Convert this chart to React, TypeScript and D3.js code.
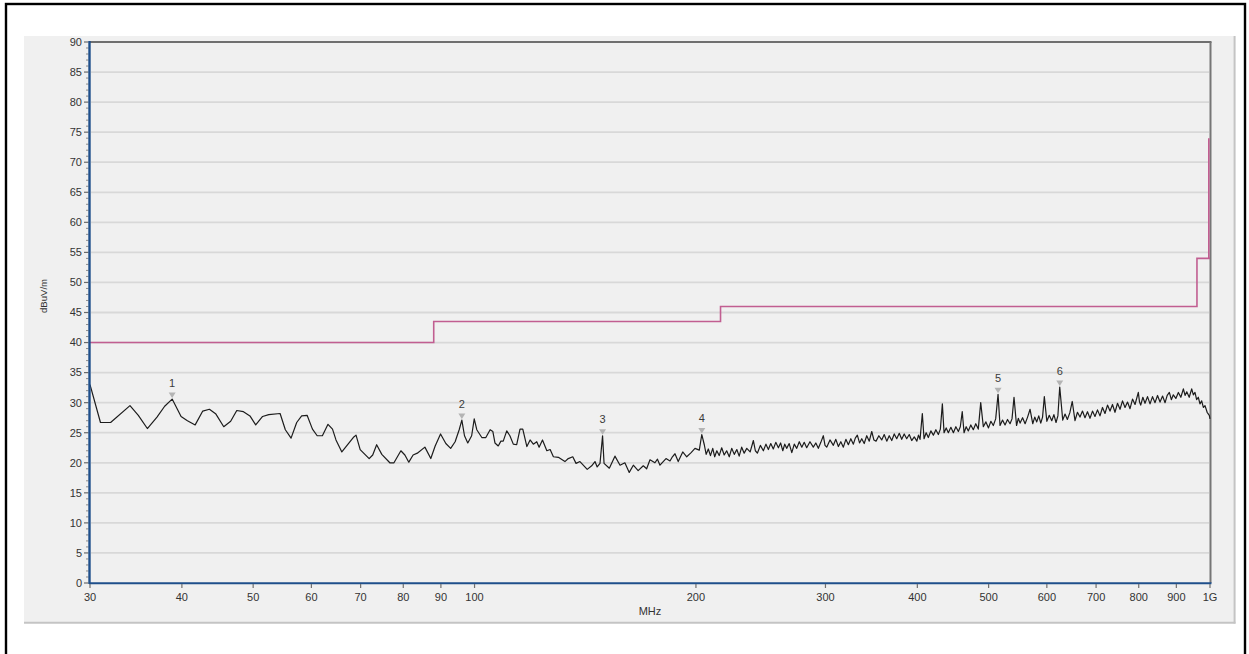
import React from 'react';
import * as d3 from 'd3';

// ---------- data ----------
const xTickValues = [30, 40, 50, 60, 70, 80, 90, 100, 200, 300, 400, 500, 600, 700, 800, 900, 1000];
const xTickLabels = ['30', '40', '50', '60', '70', '80', '90', '100', '200', '300', '400', '500', '600', '700', '800', '900', '1G'];
const yTickValues = [0, 5, 10, 15, 20, 25, 30, 35, 40, 45, 50, 55, 60, 65, 70, 75, 80, 85, 90];
const yTickLabels = ['0', '5', '10', '15', '20', '25', '30', '35', '40', '45', '50', '55', '60', '65', '70', '75', '80', '85', '90'];

// limit line (dBuV/m): frequency edges and level per band, plus final peak value at 1 GHz
const limitEdges = [30, 88, 216, 960, 1000];
const limitLevels = [40, 43.5, 46, 54];
const limitPeak = 74;

// measured trace [MHz, dBuV/m] — low band (coarse sweep)
const traceLow: [number, number][] = [
  [30, 33.0], [31.0, 26.7], [32.0, 26.7], [34.0, 29.5], [34.9, 27.9], [35.9, 25.7], [37.0, 27.6], [37.9, 29.4],
  [38.8, 30.6], [39.9, 27.7], [40.7, 27.0], [41.7, 26.3], [42.7, 28.6], [43.6, 28.9], [44.5, 28.1], [45.6, 26.0],
  [46.6, 26.9], [47.5, 28.7], [48.5, 28.5], [49.5, 27.8], [50.4, 26.3], [51.5, 27.7], [52.5, 28.0], [54.4, 28.2],
  [55.3, 25.5], [56.3, 24.1], [57.3, 26.7], [58.2, 27.8], [59.2, 27.9], [60.2, 25.6], [61.1, 24.5], [62.1, 24.5],
  [63.2, 26.4], [64.1, 25.6], [64.8, 23.8], [66.0, 21.8], [68.4, 24.2], [69.0, 24.6], [69.9, 22.2], [71.9, 20.7],
  [72.7, 21.3], [73.6, 23.0], [74.8, 21.4], [76.7, 20.0], [77.7, 20.0], [79.4, 22.0], [80.4, 21.3], [81.4, 20.1],
  [82.5, 21.3], [83.6, 21.6], [85.6, 22.6], [87.2, 20.7], [88.4, 22.8], [89.9, 24.8], [91.4, 23.2], [92.8, 22.4],
  [94.1, 23.5], [95.3, 25.5], [96.1, 27.1], [96.9, 24.5], [97.9, 23.3], [99.1, 24.5], [99.9, 27.3], [100.7, 25.5],
  [102.3, 24.2], [103.6, 24.2], [105.0, 25.5], [105.9, 25.2], [106.6, 23.3], [107.7, 22.8], [108.6, 23.6], [109.4, 23.6],
  [110.6, 25.3], [111.7, 24.5], [112.9, 23.1], [114.1, 23.0], [115.3, 25.6], [116.3, 25.6], [117.8, 22.7], [119.0, 23.8],
  [120.2, 23.1], [121.5, 23.5], [122.4, 22.6], [123.7, 23.8], [125.4, 22.0], [126.7, 22.2], [128.0, 21.0], [130.0, 20.9],
];

// mid band
const traceMid: [number, number][] = [
  [132.7, 20.2], [134.1, 20.7], [136.0, 21.0], [137.4, 19.9], [139.1, 20.2], [142.3, 18.9], [144.3, 19.5], [145.8, 20.2],
  [146.8, 19.3], [148.1, 19.9], [149.3, 24.5], [150.0, 19.9], [152.5, 19.1], [155.2, 21.1], [157.7, 19.6], [160.1, 20.0],
  [162.3, 18.4], [164.4, 19.6], [166.9, 18.7], [169.6, 19.5], [171.4, 19.0], [173.2, 20.5], [175.9, 20.0], [177.3, 20.6],
  [178.7, 19.6], [182.1, 20.7], [184.4, 20.3], [185.8, 21.0], [187.3, 21.5], [189.2, 20.2], [191.9, 21.8], [194.3, 21.0],
  [197.0, 21.7], [199.4, 22.4], [202.1, 22.1], [203.7, 24.7],
  [205.3, 23.0], [206.5, 21.4], [207.9, 22.3], [209.3, 21.2], [210.8, 22.4], [212.1, 21.0], [213.5, 22.0], [215.1, 21.2],
  [216.8, 22.5], [218.5, 21.3], [220.2, 22.0], [222.0, 21.0], [223.7, 22.4], [225.5, 21.4], [227.3, 22.2], [229.0, 21.1],
  [230.8, 22.6], [232.6, 21.6], [234.5, 22.4], [237.0, 21.8], [239.4, 23.7], [240.9, 22.0], [242.4, 21.6], [244.7, 22.9],
  [247.0, 22.0], [249.0, 23.1], [250.9, 22.2], [252.8, 23.2], [254.8, 22.3], [256.8, 23.4], [258.9, 22.5], [260.7, 23.3],
  [262.5, 22.0], [264.1, 23.1], [265.7, 22.4], [267.8, 23.2], [270.0, 21.7], [272.1, 23.1], [274.2, 22.4], [276.4, 23.5],
  [278.6, 22.6], [280.7, 23.4], [282.9, 22.5], [285.8, 23.5], [288.8, 22.6], [291.1, 23.3], [293.4, 22.4], [295.7, 23.4],
  [298.0, 24.5], [299.6, 22.9], [301.2, 22.6], [304.3, 23.8], [307.5, 22.9], [309.9, 23.9], [312.4, 22.7], [314.8, 23.5],
  [317.3, 22.6], [319.8, 23.9], [322.3, 23.0], [324.8, 24.0], [327.4, 23.1], [329.4, 24.1], [331.5, 24.6], [333.8, 23.3],
  [336.1, 24.0], [338.7, 23.2], [341.4, 24.5], [344.1, 23.6], [346.8, 25.2], [349.1, 23.8], [351.5, 23.6], [354.6, 24.5],
  [357.8, 23.8], [360.6, 24.7], [363.5, 23.6], [366.3, 24.5], [369.2, 23.7], [372.1, 24.8], [375.0, 24.0], [378.0, 24.9],
  [380.9, 23.9], [383.9, 24.8], [386.9, 24.0], [390.0, 24.7], [393.0, 23.7], [396.2, 24.3], [399.4, 23.6],
];

// high band
const traceHigh: [number, number][] = [
  [401.4, 24.6], [403.4, 23.9], [406.3, 28.2], [408.5, 24.0], [411.2, 25.0], [414.0, 24.2], [417.3, 25.3], [420.6, 24.6],
  [423.9, 25.5], [427.2, 24.7], [429.9, 25.6], [432.6, 29.8], [434.9, 25.0], [437.8, 25.8], [440.8, 25.0], [444.3, 25.9],
  [447.8, 25.0], [451.3, 26.0], [454.8, 25.2], [457.6, 26.0], [460.4, 28.5], [463.0, 25.0], [466.1, 26.0], [469.2, 25.3],
  [472.9, 26.3], [476.6, 25.5], [480.3, 26.5], [484.1, 25.6], [487.8, 30.0], [491.8, 26.0], [495.8, 26.8], [499.8, 25.8],
  [503.6, 26.9], [507.4, 26.2], [511.2, 27.3], [515.0, 31.4], [518.2, 26.2], [522.3, 27.1], [526.4, 26.3], [530.5, 27.2],
  [534.7, 26.5], [538.0, 27.3], [541.4, 30.9], [545.7, 26.2], [548.7, 27.4], [551.8, 26.6], [556.1, 27.5], [560.5, 26.5],
  [564.9, 27.6], [569.3, 28.9], [574.1, 26.5], [577.7, 27.6], [581.3, 26.8], [585.0, 27.8], [588.7, 26.6], [592.0, 27.6],
  [595.3, 31.0], [600.0, 26.9], [604.6, 27.9], [609.3, 27.0], [613.4, 28.0], [617.5, 26.7], [621.1, 27.8], [624.7, 32.6],
  [630.6, 27.1], [635.2, 28.1], [639.8, 27.2], [644.7, 28.3], [649.7, 30.2], [655.3, 27.0], [660.4, 28.4], [665.6, 27.6],
  [670.8, 28.6], [676.1, 27.5], [681.4, 28.5], [686.8, 27.4], [692.2, 28.6], [697.6, 27.7], [703.1, 28.8], [708.6, 27.8],
  [714.2, 29.2], [719.8, 28.2], [725.5, 29.6], [731.2, 28.6], [736.9, 29.7], [742.7, 28.4], [748.6, 29.9], [754.5, 28.9],
  [760.4, 30.3], [766.4, 29.2], [772.4, 30.1], [778.5, 29.0], [784.6, 30.6], [790.8, 29.7], [799.0, 31.7], [802.0, 30.1],
  [805.0, 29.6], [810.4, 30.9], [815.9, 29.9], [822.3, 31.0], [828.8, 29.8], [835.3, 31.0], [841.9, 30.0], [848.5, 31.2],
  [855.2, 30.1], [862.0, 31.1], [868.8, 30.0], [874.6, 31.2], [880.5, 31.7], [886.0, 30.5], [891.5, 31.3], [898.6, 30.7],
  [905.7, 31.7], [912.8, 30.9], [920.0, 32.3], [924.9, 31.2], [929.8, 31.8], [937.0, 30.9], [944.3, 32.3], [949.2, 31.3],
  [954.1, 31.7], [959.0, 30.5], [964.0, 30.9], [969.1, 29.8], [974.3, 30.3], [979.4, 29.2], [984.5, 29.5], [991.1, 28.4],
  [997.8, 27.9], [1000, 27.3],
];

const markerFreqs = [38.8, 96.1, 149.3, 203.7, 515.0, 624.7];
const markerLevels = [30.6, 27.1, 24.5, 24.7, 31.4, 32.6];
const markerLabels = ['1', '2', '3', '4', '5', '6'];

// ---------- layout ----------
const W = 1249;
const H = 654;
const L = 90, R = 1210, T = 42, B = 583;
const FONT = '"Liberation Sans", Arial, sans-serif';
const AXIS_BLUE = '#1f4f8b';

export default function App() {
  const x = d3.scaleLog().domain([30, 1000]).range([L, R]);
  const y = d3.scaleLinear().domain([0, 90]).range([B, T]);

  const trace = [...traceLow, ...traceMid, ...traceHigh];
  const tracePath = d3.line<[number, number]>()
    .x(d => x(d[0]))
    .y(d => y(d[1]))(trace) || '';

  const limitPts: [number, number][] = limitLevels.map((lv, i) => [limitEdges[i], lv]);
  limitPts.push([limitEdges[limitEdges.length - 1], limitLevels[limitLevels.length - 1]]);
  const stepPath = d3.line<[number, number]>()
    .x(d => x(d[0]))
    .y(d => y(d[1]))
    .curve(d3.curveStepAfter)(limitPts) || '';
  const endX = x(limitEdges[limitEdges.length - 1]) - 1.2;
  const limitFull = `${stepPath} M${endX},${y(limitLevels[limitLevels.length - 1])} L${endX},${y(limitPeak)}`;

  const minorTicks = d3.range(0, 91).filter(v => v % 5 !== 0);

  return (
    <svg width={W} height={H} style={{ position: 'absolute', left: 0, top: 0 }}>
      <rect x={0} y={0} width={W} height={H} fill="#ffffff" />
      {/* outer frame */}
      <rect x={6} y={4} width={1239} height={700} fill="none" stroke="#000" strokeWidth={2.4} />
      {/* chart panel */}
      <rect x={24} y={36} width={1210} height={586} fill="#f0f0f0" />
      <line x1={24} x2={1235.5} y1={622.8} y2={622.8} stroke="#c4c4c4" strokeWidth={2} />
      <line x1={1234.6} x2={1234.6} y1={36} y2={623.5} stroke="#c4c4c4" strokeWidth={2} />

      {/* horizontal gridlines */}
      {yTickValues.filter(v => v > 0 && v < 90).map(v => (
        <line key={'g' + v} x1={L + 1} x2={R - 1} y1={y(v)} y2={y(v)} stroke="#d8d8d8" strokeWidth={1.8} />
      ))}

      {/* top and right borders */}
      <line x1={L} x2={R + 1.5} y1={T} y2={T} stroke="#6f6f6f" strokeWidth={2} />
      <line x1={R + 0.5} x2={R + 0.5} y1={T} y2={B} stroke="#767676" strokeWidth={2} />

      {/* limit line */}
      <path d={limitFull} fill="none" stroke="#c15e91" strokeWidth={1.6} />

      {/* trace */}
      <path d={tracePath} fill="none" stroke="#1c1c1c" strokeWidth={1.2} strokeLinejoin="round" />

      {/* markers */}
      {markerFreqs.map((f, i) => {
        const mx = x(f);
        const tip = y(markerLevels[i]) - 1;
        return (
          <g key={'m' + i}>
            <path d={`M${mx - 3.5},${tip - 5.5} L${mx + 3.5},${tip - 5.5} L${mx},${tip} Z`} fill="#b4b4b4" />
            <text x={mx} y={tip - 11.5} textAnchor="middle" fontFamily={FONT} fontSize={11} fill="#3a3a3a">
              {markerLabels[i]}
            </text>
          </g>
        );
      })}

      {/* y axis */}
      {minorTicks.map(v => (
        <line key={'mn' + v} x1={86} x2={88.5} y1={y(v)} y2={y(v)} stroke="#8c8c8c" strokeWidth={1} />
      ))}
      {yTickValues.map((v, i) => (
        <g key={'y' + v}>
          <line x1={84} x2={88.5} y1={y(v)} y2={y(v)} stroke="#6a6a6a" strokeWidth={1.2} />
          <text x={82} y={y(v)} dy="0.35em" textAnchor="end" fontFamily={FONT} fontSize={11} fill="#333">
            {yTickLabels[i]}
          </text>
        </g>
      ))}
      <line x1={89.5} x2={89.5} y1={T - 1} y2={B + 1} stroke={AXIS_BLUE} strokeWidth={2.4} />

      {/* x axis */}
      <line x1={L - 1} x2={R + 1.5} y1={B + 0.3} y2={B + 0.3} stroke={AXIS_BLUE} strokeWidth={2} />
      {xTickValues.map((v, i) => (
        <g key={'x' + v}>
          <line x1={x(v)} x2={x(v)} y1={B + 1} y2={B + 5} stroke="#707070" strokeWidth={1.2} />
          <text x={x(v)} y={597} dy="0.35em" textAnchor="middle" fontFamily={FONT} fontSize={11} fill="#333">
            {xTickLabels[i]}
          </text>
        </g>
      ))}

      {/* axis titles */}
      <text x={650} y={611} dy="0.35em" textAnchor="middle" fontFamily={FONT} fontSize={11} fill="#333">MHz</text>
      <text transform="translate(44,296) rotate(-90)" dy="0.35em" textAnchor="middle" fontFamily={FONT} fontSize={9.6} fill="#333">
        dBuV/m
      </text>
    </svg>
  );
}
